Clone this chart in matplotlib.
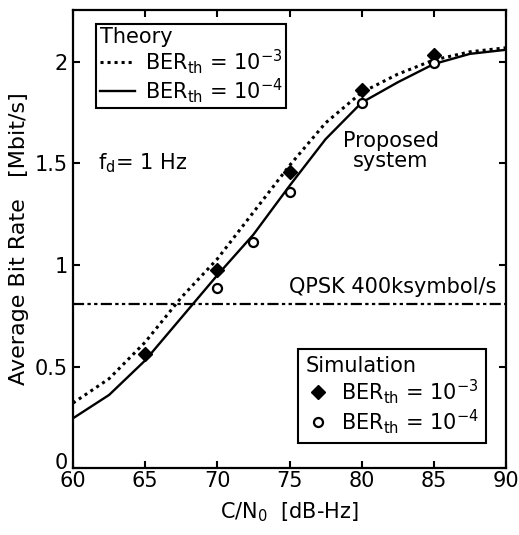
import numpy as np
import matplotlib
matplotlib.use("Agg")
from matplotlib import pyplot as plt
from matplotlib.lines import Line2D
from matplotlib.transforms import ScaledTranslation

plt.rcParams['font.family'] = ['DejaVu Sans']
plt.rcParams['mathtext.fontset'] = 'dejavusans'

# theory curves
cn0 = [60, 62.5, 65, 67.5, 70, 72.5, 75, 77.5, 80, 82.5, 85, 87.5, 90]
rate_ber3 = [0.32, 0.44, 0.62, 0.84, 1.03, 1.26, 1.49, 1.70, 1.85, 1.94, 2.01, 2.05, 2.07]
rate_ber4 = [0.245, 0.36, 0.53, 0.74, 0.95, 1.15, 1.39, 1.62, 1.80, 1.90, 1.99, 2.04, 2.06]

# simulation points
sim_x3 = [65, 70, 75, 80, 85]
sim_y3 = [0.56, 0.975, 1.46, 1.86, 2.035]
sim_x4 = [70, 72.5, 75, 80, 85]
sim_y4 = [0.885, 1.115, 1.36, 1.80, 1.995]

qpsk_rate = 0.808

fs = 15
fig = plt.figure(figsize=(5.19, 5.35), dpi=100)
ax = fig.add_axes([0.1407, 0.1252, 0.8343, 0.8561])

ax.plot(cn0, rate_ber3, color='black', lw=2.2, linestyle=(0, (1, 1.3)))
ax.plot(cn0, rate_ber4, color='black', lw=1.7)
ax.axhline(qpsk_rate, color='black', lw=1.6, linestyle=(0, (5, 1.5, 1.5, 1.5, 1.5, 1.5)))
ax.plot(sim_x3, sim_y3, 'D', color='black', markersize=7.5)
ax.plot(sim_x4, sim_y4, 'o', mfc='white', mec='black', mew=1.6, markersize=6.5)

ax.set_xlim(60, 90)
ax.set_ylim(0, 2.256)
ax.set_xticks([60, 65, 70, 75, 80, 85, 90])
ax.set_yticks([0, 0.5, 1, 1.5, 2])
ax.set_yticklabels(['0', '0.5', '1', '1.5', '2'])
ax.tick_params(direction='in', top=True, right=True, length=5, width=1.5, labelsize=fs)
ax.tick_params(axis='x', pad=2)
ax.tick_params(axis='y', pad=4)
for s in ax.spines.values():
    s.set_linewidth(1.6)

# the "0" sits a little above the axis in the original
lab0 = ax.yaxis.get_major_ticks()[0].label1
lab0.set_transform(lab0.get_transform() + ScaledTranslation(0, 5 / 72, fig.dpi_scale_trans))

ax.set_xlabel(r'C/N$_0$  [dB-Hz]', fontsize=fs, labelpad=7)
ax.set_ylabel('Average Bit Rate   [Mbit/s]', fontsize=16, labelpad=4)

ax.text(61.75, 1.50, r'f$_\mathrm{d}$= 1 Hz', fontsize=fs, ha='left', va='center')
ax.text(82.0, 1.56, 'Proposed\nsystem', fontsize=fs, ha='center', va='center', linespacing=1.0)
ax.text(89.3, 0.893, 'QPSK 400ksymbol/s', fontsize=fs, ha='right', va='center')

lab3 = r'BER$_\mathrm{th}$ = 10$^{-3}$'
lab4 = r'BER$_\mathrm{th}$ = 10$^{-4}$'

theory = [Line2D([], [], color='black', lw=2.2, linestyle=(0, (1, 1.3))),
          Line2D([], [], color='black', lw=1.7)]
leg1 = ax.legend(theory, [lab3, lab4], title='Theory', loc='upper left',
                 bbox_to_anchor=(0.054, 0.969), borderaxespad=0, fontsize=fs,
                 title_fontsize=fs, fancybox=False, edgecolor='black',
                 framealpha=1, handlelength=1.7, handletextpad=0.5,
                 labelspacing=0.0, borderpad=0.15, alignment='left')
leg1.get_frame().set_linewidth(1.5)
ax.add_artist(leg1)

sims = [Line2D([], [], marker='D', color='black', linestyle='none', markersize=7.5),
        Line2D([], [], marker='o', mfc='white', mec='black', mew=1.6,
               linestyle='none', markersize=6.5)]
leg2 = ax.legend(sims, [lab3, lab4], title='Simulation', loc='lower right',
                 bbox_to_anchor=(0.954, 0.055), borderaxespad=0, fontsize=fs,
                 title_fontsize=fs, fancybox=False, edgecolor='black',
                 framealpha=1, handlelength=1.2, handletextpad=0.5,
                 labelspacing=0.05, borderpad=0.35, alignment='left')
leg2.get_frame().set_linewidth(1.5)

fig.savefig('out.png', dpi=100)
